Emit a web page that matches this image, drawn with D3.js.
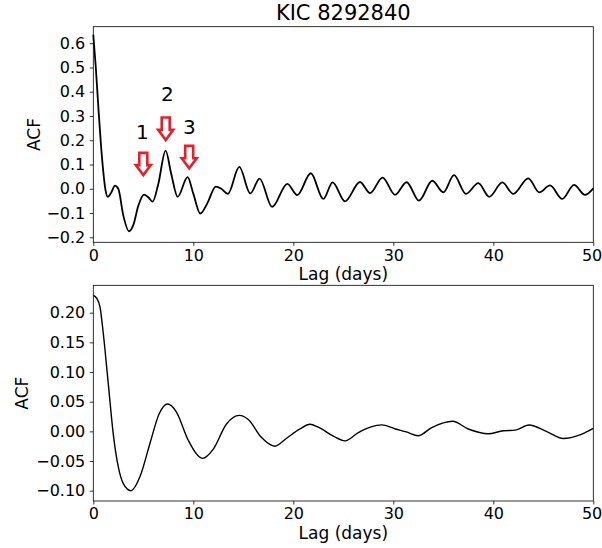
<!DOCTYPE html>
<html>
<head>
<meta charset="utf-8">
<script src="https://cdn.jsdelivr.net/npm/d3@7"></script>
<style>
  html, body { margin: 0; padding: 0; background: #fff; }
  svg { display: block; }
  text { font-family: "DejaVu Sans", sans-serif; fill: #000; }
</style>
</head>
<body>
<svg id="chart" width="602" height="548"></svg>
<script>
// ---------- data ----------
const title = "KIC 8292840";
const xLabel = "Lag (days)";
const yLabel = "ACF";
const xTicks = [0, 10, 20, 30, 40, 50];
const topYTicks = [-0.2, -0.1, 0.0, 0.1, 0.2, 0.3, 0.4, 0.5, 0.6];
const bottomYTicks = [-0.10, -0.05, 0.00, 0.05, 0.10, 0.15, 0.20];

const topLag = [0, 0.25, 0.5, 0.75, 1.0, 1.2, 1.45, 1.8, 2.17, 2.5, 3.0, 3.57, 4.0, 4.5, 5.07, 5.5, 5.93, 6.5, 7.23, 7.8, 8.43, 9.43, 10.0, 10.7, 11.4, 12.25, 12.8, 13.45, 14.6, 15.7, 16.63, 17.88, 19.4, 20.4, 21.75, 23.0, 23.93, 25.17, 26.67, 27.67, 28.93, 30.17, 31.33, 32.57, 33.9, 35.0, 36.07, 37.27, 38.5, 39.6, 40.9, 42.0, 43.5, 44.6, 45.67, 46.9, 48.07, 49.17, 50];
const topACF = [0.635, 0.50, 0.34, 0.19, 0.07, 0.0, -0.033, -0.015, 0.013, 0.0, -0.11, -0.175, -0.15, -0.07, -0.024, -0.035, -0.053, 0.02, 0.157, 0.06, -0.033, 0.048, -0.02, -0.102, -0.06, 0.009, 0.0, -0.021, 0.09, -0.019, 0.042, -0.075, 0.02, -0.026, 0.064, -0.042, 0.026, -0.052, 0.028, -0.018, 0.046, -0.025, 0.027, -0.049, 0.033, -0.015, 0.056, -0.021, 0.023, -0.033, 0.026, -0.021, 0.043, -0.015, 0.014, -0.042, 0.016, -0.025, 0.002];

const bottomLag = [0, 0.35, 0.67, 1.0, 1.5, 2.0, 2.5, 3.0, 3.77, 4.7, 5.67, 6.6, 7.43, 8.3, 9.5, 10.93, 12.0, 13.3, 14.6, 15.5, 16.8, 18.17, 19.3, 20.67, 21.67, 22.5, 24.0, 25.17, 26.5, 27.7, 28.83, 30.2, 31.3, 32.5, 33.8, 35.93, 37.5, 39.5, 41.0, 42.2, 43.57, 45.3, 47.0, 48.67, 50];
const bottomACF = [0.229, 0.224, 0.21, 0.165, 0.08, -0.005, -0.06, -0.088, -0.1, -0.075, -0.02, 0.03, 0.046, 0.033, -0.015, -0.0455, -0.03, 0.012, 0.027, 0.02, -0.01, -0.025, -0.012, 0.004, 0.012, 0.007, -0.008, -0.016, -0.002, 0.007, 0.011, 0.004, -0.001, -0.0073, 0.006, 0.017, 0.004, -0.004, 0.001, 0.002, 0.0106, 0.0, -0.012, -0.006, 0.005];

// annotation arrows (top panel): label, lag, arrow tip value, arrow top value, label value
const annLabels = ["1", "2", "3"];
const annLag = [5.0, 7.24, 9.59];
const annTip = [0.0565, 0.201, 0.084];
const annTop = [0.148, 0.294, 0.177];
const annLabelLag = [4.9, 7.4, 9.6];
const annLabelVal = [0.2035, 0.363, 0.224];

// ---------- drawing ----------
const svg = d3.select("#chart");
const L = 93.3, R = 593.3;

function panel(cfg) {
  const x = d3.scaleLinear().domain([0, 50]).range([L, R]);
  const y = d3.scaleLinear().domain(cfg.yDomain).range([cfg.bottom, cfg.top]);
  const g = svg.append("g");

  // line
  const line = d3.line().x(d => x(d[0])).y(d => y(d[1])).curve(d3.curveMonotoneX);
  const pts = cfg.lag.map((l, i) => [l, cfg.acf[i]]);
  g.append("path").datum(pts).attr("d", line)
    .attr("fill", "none").attr("stroke", "#000").attr("stroke-width", cfg.lw)
    .attr("stroke-linejoin", "round");

  // x axis
  const xa = g.append("g").attr("transform", `translate(0,${cfg.bottom})`)
    .call(d3.axisBottom(x).tickValues(xTicks).tickFormat(d3.format("d")).tickSize(3.5).tickPadding(3.5).tickSizeOuter(0));
  xa.select(".domain").remove();
  xa.selectAll("text").attr("font-size", 16).attr("font-family", "DejaVu Sans").attr("fill", "#000");
  // keep the last label inside the window
  xa.selectAll("text").filter(d => d === 50).attr("text-anchor", "end").attr("x", 8.5);
  xa.selectAll("line").attr("stroke", "#000").attr("stroke-width", 0.8);

  // y axis
  const ya = g.append("g").attr("transform", `translate(${L},0)`)
    .call(d3.axisLeft(y).tickValues(cfg.yTicks).tickFormat(d3.format(cfg.fmt)).tickSize(3.5).tickPadding(4.5).tickSizeOuter(0));
  ya.select(".domain").remove();
  ya.selectAll("text").attr("font-size", 16).attr("font-family", "DejaVu Sans").attr("fill", "#000");
  ya.selectAll("line").attr("stroke", "#000").attr("stroke-width", 0.8);

  // frame
  g.append("rect").attr("x", L).attr("y", cfg.top).attr("width", R - L).attr("height", cfg.bottom - cfg.top)
    .attr("fill", "none").attr("stroke", "#000").attr("stroke-width", 0.8);

  // labels
  g.append("text").attr("x", (L + R) / 2).attr("y", cfg.xLabelY).attr("text-anchor", "middle")
    .attr("font-size", 17).text(xLabel);
  g.append("text").attr("transform", `translate(${cfg.yLabelX},${(cfg.top + cfg.bottom) / 2}) rotate(-90)`)
    .attr("text-anchor", "middle").attr("font-size", 17).text(yLabel);

  return { x, y, g };
}

const topP = panel({
  top: 26.7, bottom: 242.3, yDomain: [-0.2206, 0.668], yTicks: topYTicks, fmt: ".1f",
  lag: topLag, acf: topACF, lw: 1.8, xLabelY: 280, yLabelX: 40
});
const botP = panel({
  top: 285.3, bottom: 501, yDomain: [-0.1174, 0.2462], yTicks: bottomYTicks, fmt: ".2f",
  lag: bottomLag, acf: bottomACF, lw: 1.4, xLabelY: 539, yLabelX: 28
});

// title
svg.append("text").attr("x", (L + R) / 2).attr("y", 20).attr("text-anchor", "middle")
  .attr("font-size", 21).text(title);

// annotation arrows
const ax = topP.x, ay = topP.y;
annLabels.forEach((lab, i) => {
  const cx = ax(annLag[i]);
  const tip = ay(annTip[i]);
  const top = ay(annTop[i]);
  const h = tip - top;
  const headH = h * 0.45, shaftW = 4, headW = 7.5;
  const p = d3.path();
  p.moveTo(cx - shaftW, top);
  p.lineTo(cx + shaftW, top);
  p.lineTo(cx + shaftW, tip - headH);
  p.lineTo(cx + headW, tip - headH);
  p.lineTo(cx, tip);
  p.lineTo(cx - headW, tip - headH);
  p.lineTo(cx - shaftW, tip - headH);
  p.closePath();
  svg.append("path").attr("d", p.toString())
    .attr("fill", "#fff").attr("stroke", "#e5202b").attr("stroke-width", 2.6)
    .attr("stroke-linejoin", "miter");
  svg.append("text").attr("x", ax(annLabelLag[i])).attr("y", ay(annLabelVal[i]))
    .attr("text-anchor", "middle").attr("font-size", 20).attr("font-family", "DejaVu Sans")
    .text(lab);
});
</script>
</body>
</html>
